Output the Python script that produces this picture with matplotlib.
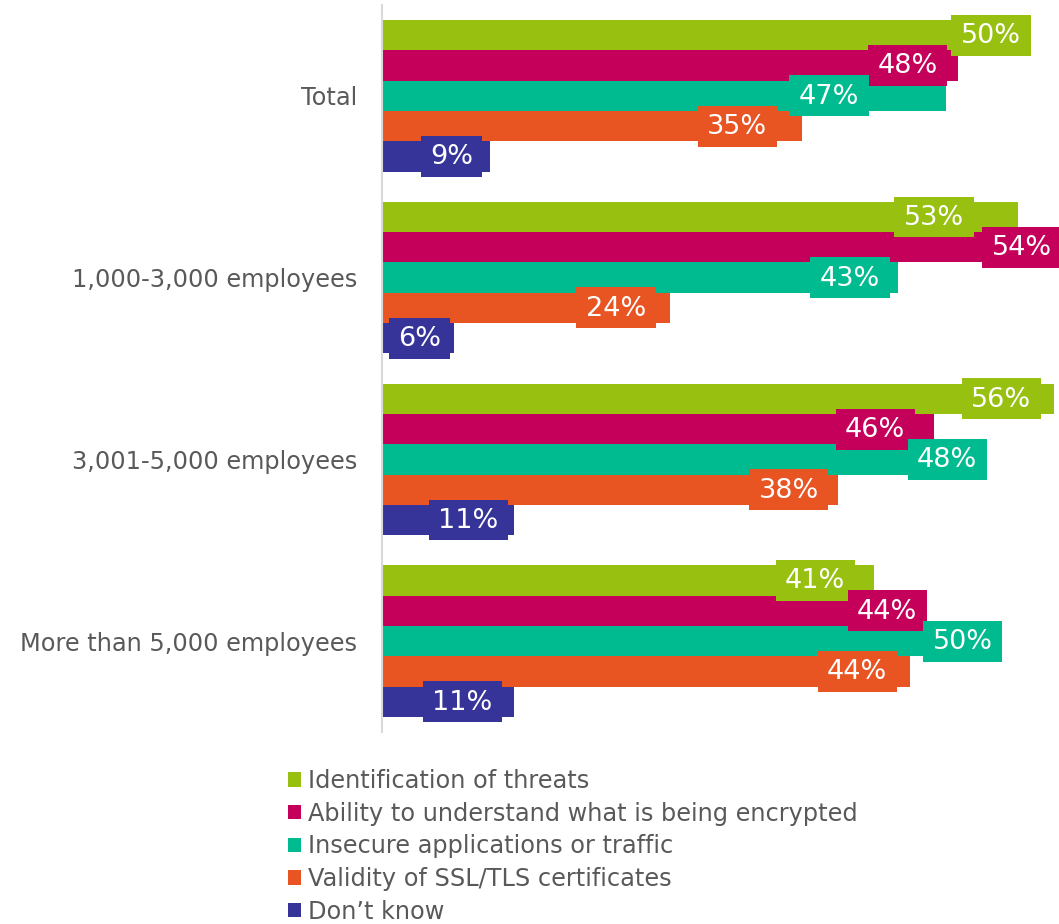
import matplotlib.pyplot as plt
from matplotlib.patches import Rectangle, Patch

groups = ['Total', '1,000-3,000 employees', '3,001-5,000 employees',
          'More than 5,000 employees']
series = ['Identification of threats',
          'Ability to understand what is being encrypted',
          'Insecure applications or traffic',
          'Validity of SSL/TLS certificates',
          'Don\u2019t know']
colors = ['#98C010', '#C5005A', '#00BB8F', '#E85522', '#363499']

# values per series, one entry per group
threats = [50, 53, 56, 41]
understand = [48, 54, 46, 44]
insecure = [47, 43, 48, 50]
validity = [35, 24, 38, 44]
dont_know = [9, 6, 11, 11]
values = [threats, understand, insecure, validity, dont_know]

# where each value label box sits along the bar (in % units)
label_x = [
    [50.75, 46.0, 51.6, 36.1],
    [43.8, 53.3, 41.1, 42.1],
    [37.25, 39.0, 47.1, 48.4],
    [29.6, 19.5, 33.9, 39.6],
    [5.8, 3.1, 7.2, 6.7],
]

W, H = 1059, 924
fig = plt.figure(figsize=(W / 100, H / 100), dpi=100)
ax = fig.add_axes([382 / W, 1 - 732 / H, 1 - 382 / W, 727 / H])

grey = '#595959'
for s, vals in enumerate(values):
    ys = [g * 6 + s for g in range(len(groups))]
    ax.barh(ys, vals, height=1.0, color=colors[s], edgecolor='none', zorder=2)
    for g, v in enumerate(vals):
        txt = '%d%%' % v
        bw = 6.6 if len(txt) > 2 else 5.1
        bh = 1.35
        cx = label_x[s][g]
        ax.add_patch(Rectangle((cx - bw / 2, ys[g] - bh / 2), bw, bh,
                               facecolor=colors[s], edgecolor='none',
                               zorder=3, clip_on=False))
        ax.text(cx, ys[g] + 0.03, txt, ha='center', va='center',
                color='white', fontsize=19.5, zorder=4, clip_on=False)

ax.set_xlim(0, 677 / 12)
ax.set_ylim(23, -1)
ax.set_yticks([g * 6 + 2 for g in range(len(groups))])
ax.set_yticklabels(groups, fontsize=17.3, color=grey)
ax.tick_params(axis='y', length=0, pad=18)
ax.set_xticks([])
for side in ['top', 'right', 'bottom']:
    ax.spines[side].set_visible(False)
ax.spines['left'].set_color('#d9d9d9')
ax.spines['left'].set_linewidth(1.5)

handles = [Patch(facecolor=c, edgecolor='none') for c in colors]
fig.legend(handles, series, loc='upper left',
           bbox_to_anchor=(288 / W, 1 - 769 / H), frameon=False,
           fontsize=17.3, labelcolor=grey, handlelength=0.55,
           handleheight=0.55, handletextpad=0.3, labelspacing=0.36,
           borderpad=0, borderaxespad=0)

fig.savefig('out.png', dpi=100)
